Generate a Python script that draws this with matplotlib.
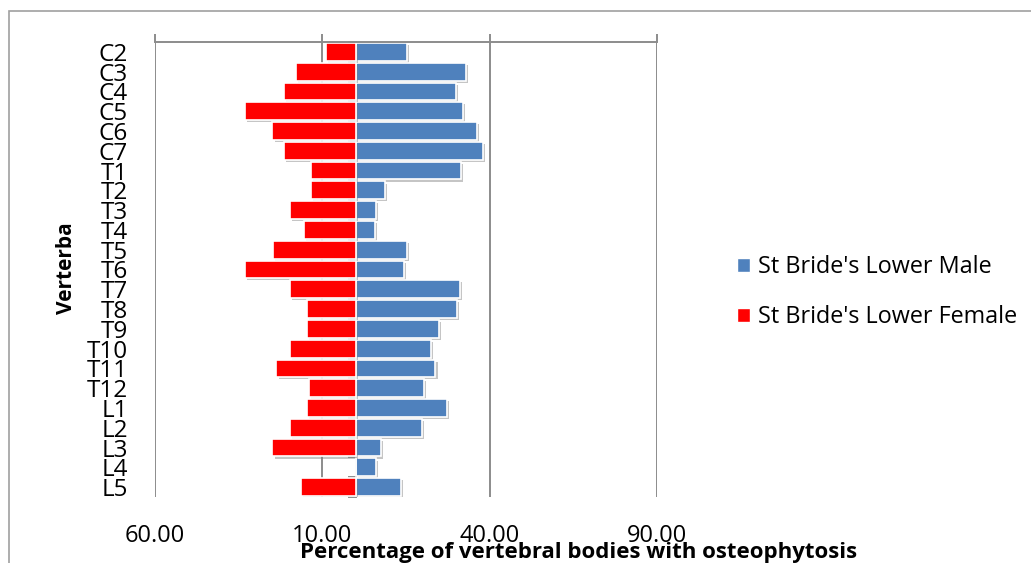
import numpy as np
import matplotlib
matplotlib.use("Agg")
import matplotlib.pyplot as plt
import matplotlib.patheffects as pe
from matplotlib.patches import Patch, Rectangle
from matplotlib.ticker import FuncFormatter

# Share of vertebral bodies with osteophytosis, by vertebra
vertebrae = ["C2", "C3", "C4", "C5", "C6", "C7",
             "T1", "T2", "T3", "T4", "T5", "T6", "T7", "T8", "T9", "T10", "T11", "T12",
             "L1", "L2", "L3", "L4", "L5"]
male = [15.3, 33.0, 29.9, 32.0, 36.1, 38.0,
        31.3, 8.7, 5.9, 5.7, 15.3, 14.4, 31.0, 30.1, 24.8, 22.4, 23.8, 20.5,
        27.3, 19.8, 7.5, 6.1, 13.5]
female = [8.8, 17.9, 21.4, 33.1, 24.9, 21.5,
          13.3, 13.3, 19.7, 15.5, 24.8, 33.1, 19.8, 14.7, 14.7, 19.8, 23.7, 13.9,
          14.7, 19.8, 24.9, 0.0, 16.4]
x_ticks = [-60, -10, 40, 90]
series_names = ["St Bride's Lower Male", "St Bride's Lower Female"]

BLUE = "#4F81BD"
RED = "#FF0000"
GREY = "#8C8C8C"

plt.rcParams["font.family"] = ["Open Sans", "DejaVu Sans"]

W, H = 1031, 563
fig = plt.figure(figsize=(W / 100, H / 100), dpi=100)

# chart frame
fig.patches.append(Rectangle((9 / W, -0.05), 1.1, 1 - 11 / H + 0.05,
                             transform=fig.transFigure, fill=False,
                             edgecolor="#A0A0A0", linewidth=1.2))

ax = fig.add_axes([155 / W, 1 - 497 / H, (657 - 155) / W, (497 - 42) / H])

y = np.arange(len(vertebrae))
shadow = [pe.SimplePatchShadow(offset=(1.5, -1.5), shadow_rgbFace="#808080", alpha=0.45),
          pe.Normal()]
ax.barh(y, male, height=0.9, color=BLUE, edgecolor="white", linewidth=1.2,
        path_effects=shadow, zorder=2)
ax.barh(y, -np.asarray(female), height=0.9, color=RED, edgecolor="white",
        linewidth=1.2, path_effects=shadow, zorder=2)

xmin, xmax = x_ticks[0], x_ticks[-1]
ax.set_xlim(xmin, xmax)
ax.set_ylim(len(vertebrae) - 0.5, -0.5)

ax.set_xticks(x_ticks)
ax.xaxis.set_major_formatter(FuncFormatter(lambda v, _: f"{abs(v):.2f}"))
ax.grid(axis="x", color=GREY, linewidth=1.4)
ax.set_axisbelow(True)
for side in ("left", "right", "bottom"):
    ax.spines[side].set_visible(False)
ax.spines["top"].set_color(GREY)
ax.spines["top"].set_linewidth(1.4)
ax.tick_params(axis="x", top=True, bottom=False, labeltop=False, labelbottom=True,
               direction="out", length=5.5, width=1.4, color=GREY, pad=14,
               labelsize=17)

ax.set_yticks(y, vertebrae)
ax.tick_params(axis="y", length=0, pad=19.4, labelsize=17.5)

# vertical category axis through zero with outward ticks between categories
sec = ax.secondary_yaxis((0 - xmin) / (xmax - xmin))
sec.set_yticks(np.arange(len(vertebrae) + 1) - 0.5)
sec.yaxis.set_ticks_position("left")
sec.tick_params(axis="y", direction="out", length=6, width=1.4, color=GREY,
                labelleft=False, labelright=False)
for s in sec.spines.values():
    s.set_color(GREY)
    s.set_linewidth(1.4)

fig.text(66 / W, 1 - 268 / H, "Verterba", rotation=90, fontsize=15,
         fontweight="bold", ha="center", va="center")
fig.text(579 / W, 1 - 558 / H, "Percentage of vertebral bodies with osteophytosis",
         fontsize=16, fontweight="bold", ha="center", va="baseline")

handles = [Patch(facecolor=BLUE, edgecolor="white"),
           Patch(facecolor=RED, edgecolor="white")]
fig.legend(handles, series_names, loc="center left",
           bbox_to_anchor=(737 / W, 1 - 292 / H), frameon=False, fontsize=16.8,
           handlelength=0.55, handleheight=0.55, handletextpad=0.35,
           labelspacing=1.1, borderpad=0, borderaxespad=0)

fig.savefig("out.png", dpi=100)
